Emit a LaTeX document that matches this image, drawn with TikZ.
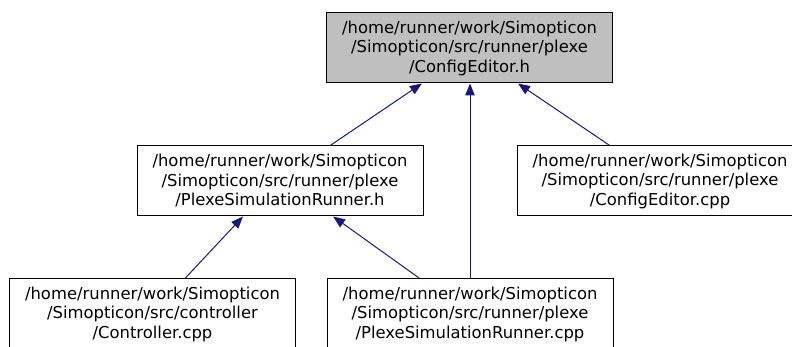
\documentclass[tikz,border=0pt]{standalone}
\usepackage{fontspec}
\setmainfont{DejaVu Sans}
\usetikzlibrary{arrows.meta,calc}
\definecolor{edgeblue}{HTML}{191970}
\definecolor{topgray}{HTML}{BFBFBF}
\begin{document}
\begin{tikzpicture}[x=1pt,y=-1pt,
  filebox/.style={draw=black,line width=1pt,inner sep=0pt,align=center,
    minimum width=286pt,minimum height=70pt,
    font=\fontsize{16.4}{19.5}\selectfont},
  dep/.style={draw=edgeblue,line width=1pt,-{Triangle[length=12pt,width=9.5pt]},edgeblue}]
\clip (0,0) rectangle (792,347);
\node[filebox,fill=topgray] (top) at (469.5,48) {/home/runner/work/Simopticon\\/Simopticon/src/runner/plexe\\/ConfigEditor.h};
\node[filebox] (ml) at (280,181) {/home/runner/work/Simopticon\\/Simopticon/src/runner/plexe\\/PlexeSimulationRunner.h};
\node[filebox] (mr) at (660,181) {/home/runner/work/Simopticon\\/Simopticon/src/runner/plexe\\/ConfigEditor.cpp};
\node[filebox] (bl) at (152.5,314) {/home/runner/work/Simopticon\\/Simopticon/src/controller\\/Controller.cpp};
\node[filebox] (bm) at (470,314) {/home/runner/work/Simopticon\\/Simopticon/src/runner/plexe\\/PlexeSimulationRunner.cpp};
\draw[dep] ($(ml.north west)!0.675!(ml.north east)$) -- ($(top.south west)!0.334!(top.south east)$);
\draw[dep] ($(mr.north west)!0.325!(mr.north east)$) -- ($(top.south west)!0.669!(top.south east)$);
\draw[dep] (bm.north) -- (bm.north |- top.south);
\draw[dep] ($(bl.north west)!0.613!(bl.north east)$) -- ($(ml.south west)!0.371!(ml.south east)$);
\draw[dep] ($(bm.north west)!0.325!(bm.north east)$) -- ($(ml.south west)!0.685!(ml.south east)$);
\end{tikzpicture}
\end{document}
